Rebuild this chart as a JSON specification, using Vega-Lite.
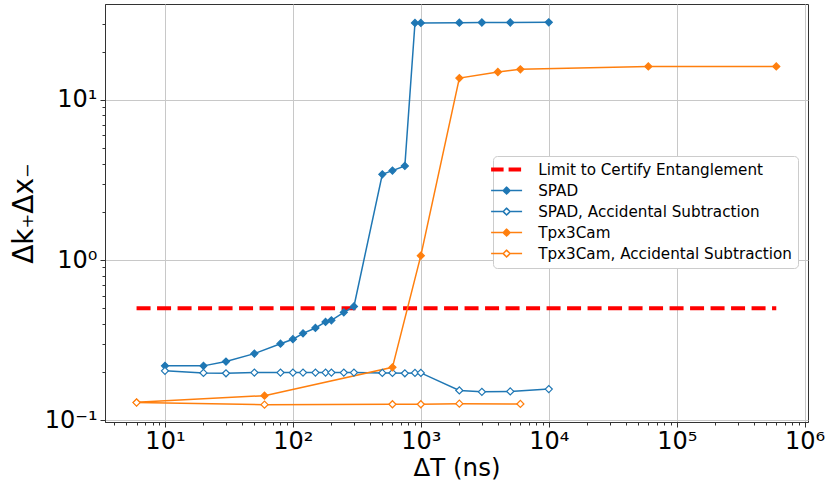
{
  "$schema": "https://vega.github.io/schema/vega-lite/v6.json",
  "width": 703,
  "height": 418,
  "autosize": "none",
  "padding": {"left": 105, "top": 4, "right": 19, "bottom": 63},
  "background": "white",
  "config": {
    "view": {"stroke": "#333333", "strokeWidth": 1},
    "font": "DejaVu Sans"
  },
  "datasets": {
    "pts": [
      {"series": "SPAD", "dt": 10, "val": 0.218},
      {"series": "SPAD", "dt": 20, "val": 0.218},
      {"series": "SPAD", "dt": 30, "val": 0.232},
      {"series": "SPAD", "dt": 50, "val": 0.26},
      {"series": "SPAD", "dt": 80, "val": 0.30},
      {"series": "SPAD", "dt": 100, "val": 0.32},
      {"series": "SPAD", "dt": 120, "val": 0.348},
      {"series": "SPAD", "dt": 150, "val": 0.376},
      {"series": "SPAD", "dt": 180, "val": 0.41},
      {"series": "SPAD", "dt": 200, "val": 0.42},
      {"series": "SPAD", "dt": 250, "val": 0.471},
      {"series": "SPAD", "dt": 300, "val": 0.513},
      {"series": "SPAD", "dt": 500, "val": 3.43},
      {"series": "SPAD", "dt": 600, "val": 3.62},
      {"series": "SPAD", "dt": 750, "val": 3.87},
      {"series": "SPAD", "dt": 900, "val": 30.3},
      {"series": "SPAD", "dt": 1000, "val": 30.3},
      {"series": "SPAD", "dt": 2000, "val": 30.4},
      {"series": "SPAD", "dt": 3000, "val": 30.5},
      {"series": "SPAD", "dt": 5000, "val": 30.5},
      {"series": "SPAD", "dt": 10000, "val": 30.6},
      {"series": "SPAD, Accidental Subtraction", "dt": 10, "val": 0.203},
      {"series": "SPAD, Accidental Subtraction", "dt": 20, "val": 0.197},
      {"series": "SPAD, Accidental Subtraction", "dt": 30, "val": 0.196},
      {"series": "SPAD, Accidental Subtraction", "dt": 50, "val": 0.198},
      {"series": "SPAD, Accidental Subtraction", "dt": 80, "val": 0.198},
      {"series": "SPAD, Accidental Subtraction", "dt": 100, "val": 0.198},
      {"series": "SPAD, Accidental Subtraction", "dt": 120, "val": 0.198},
      {"series": "SPAD, Accidental Subtraction", "dt": 150, "val": 0.198},
      {"series": "SPAD, Accidental Subtraction", "dt": 180, "val": 0.198},
      {"series": "SPAD, Accidental Subtraction", "dt": 200, "val": 0.198},
      {"series": "SPAD, Accidental Subtraction", "dt": 250, "val": 0.198},
      {"series": "SPAD, Accidental Subtraction", "dt": 300, "val": 0.198},
      {"series": "SPAD, Accidental Subtraction", "dt": 500, "val": 0.197},
      {"series": "SPAD, Accidental Subtraction", "dt": 600, "val": 0.197},
      {"series": "SPAD, Accidental Subtraction", "dt": 750, "val": 0.196},
      {"series": "SPAD, Accidental Subtraction", "dt": 900, "val": 0.197},
      {"series": "SPAD, Accidental Subtraction", "dt": 1000, "val": 0.197},
      {"series": "SPAD, Accidental Subtraction", "dt": 2000, "val": 0.153},
      {"series": "SPAD, Accidental Subtraction", "dt": 3000, "val": 0.150},
      {"series": "SPAD, Accidental Subtraction", "dt": 5000, "val": 0.151},
      {"series": "SPAD, Accidental Subtraction", "dt": 10000, "val": 0.156},
      {"series": "Tpx3Cam", "dt": 6, "val": 0.129},
      {"series": "Tpx3Cam", "dt": 60, "val": 0.142},
      {"series": "Tpx3Cam", "dt": 600, "val": 0.2135},
      {"series": "Tpx3Cam", "dt": 1000, "val": 1.064},
      {"series": "Tpx3Cam", "dt": 2000, "val": 13.7},
      {"series": "Tpx3Cam", "dt": 4000, "val": 14.96},
      {"series": "Tpx3Cam", "dt": 6000, "val": 15.56},
      {"series": "Tpx3Cam", "dt": 60000, "val": 16.2},
      {"series": "Tpx3Cam", "dt": 600000, "val": 16.2},
      {"series": "Tpx3Cam, Accidental Subtraction", "dt": 6, "val": 0.1285},
      {"series": "Tpx3Cam, Accidental Subtraction", "dt": 60, "val": 0.1247},
      {"series": "Tpx3Cam, Accidental Subtraction", "dt": 600, "val": 0.1255},
      {"series": "Tpx3Cam, Accidental Subtraction", "dt": 1000, "val": 0.1255},
      {"series": "Tpx3Cam, Accidental Subtraction", "dt": 2000, "val": 0.1265},
      {"series": "Tpx3Cam, Accidental Subtraction", "dt": 6000, "val": 0.126}
    ],
    "limit": [
      {"series": "Limit to Certify Entanglement", "dt": 6, "dt2": 600000, "val": 0.5}
    ]
  },
  "layer": [
    {
      "data": {"name": "limit"},
      "mark": {"type": "rule", "strokeWidth": 4, "strokeDash": [14, 6.5]},
      "encoding": {
        "x": {"field": "dt", "type": "quantitative"},
        "x2": {"field": "dt2"},
        "y": {"field": "val", "type": "quantitative"},
        "color": {"field": "series", "type": "nominal"}
      }
    },
    {
      "data": {"name": "pts"},
      "mark": {"type": "line", "strokeWidth": 1.5},
      "encoding": {
        "x": {"field": "dt", "type": "quantitative"},
        "y": {"field": "val", "type": "quantitative"},
        "color": {"field": "series", "type": "nominal"}
      }
    },
    {
      "data": {"name": "pts"},
      "mark": {"type": "point", "shape": "diamond", "size": 50, "strokeWidth": 1.2, "opacity": 1, "filled": false},
      "encoding": {
        "x": {"field": "dt", "type": "quantitative"},
        "y": {"field": "val", "type": "quantitative"},
        "color": {"field": "series", "type": "nominal"},
        "fill": {
          "field": "series", "type": "nominal", "legend": null,
          "scale": {
            "domain": ["Limit to Certify Entanglement", "SPAD", "SPAD, Accidental Subtraction", "Tpx3Cam", "Tpx3Cam, Accidental Subtraction"],
            "range": ["#ff0000", "#1f77b4", "#ffffff", "#ff7f0e", "#ffffff"]
          }
        }
      }
    }
  ],
  "resolve": {"scale": {"fill": "independent"}},
  "encoding": {
    "x": {
      "field": "dt", "type": "quantitative",
      "scale": {"type": "log", "domain": [3.4, 1062000], "nice": false},
      "axis": {
        "title": "ΔT (ns)",
        "titleFontSize": 24.5, "titleFont": "DejaVu Sans", "titleFontWeight": "normal", "titleColor": "#000000",
        "titleBaseline": "alphabetic", "titleY": 53,
        "values": [4,5,6,7,8,9,10,20,30,40,50,60,70,80,90,100,200,300,400,500,600,700,800,900,1000,2000,3000,4000,5000,6000,7000,8000,9000,10000,20000,30000,40000,50000,60000,70000,80000,90000,100000,200000,300000,400000,500000,600000,700000,800000,900000,1000000],
        "labelExpr": "datum.value == 10 ? '10¹' : datum.value == 100 ? '10²' : datum.value == 1000 ? '10³' : datum.value == 10000 ? '10⁴' : datum.value == 100000 ? '10⁵' : datum.value == 1000000 ? '10⁶' : ''",
        "labelFontSize": 24, "labelFont": "DejaVu Sans", "labelColor": "#000000",
        "labelOverlap": false, "labelPadding": 2, "labelFlush": false, "labelBound": false,
        "tickSize": {"condition": {"test": "indexof([10,100,1000,10000,100000,1000000], datum.value) >= 0", "value": 5}, "value": 3},
        "tickColor": "#333333", "tickWidth": 1,
        "domainColor": "#333333", "domainWidth": 1,
        "grid": true,
        "gridColor": "#c8c8c8", "gridWidth": 1,
        "gridOpacity": {"condition": {"test": "indexof([10,100,1000,10000,100000,1000000], datum.value) >= 0", "value": 1}, "value": 0}
      }
    },
    "y": {
      "field": "val", "type": "quantitative",
      "scale": {"type": "log", "domain": [0.0972, 39.8], "nice": false},
      "axis": {
        "title": "Δk₊Δx₋",
        "titleFontSize": 28, "titleFont": "DejaVu Sans", "titleFontWeight": "normal", "titleColor": "#000000",
        "titleX": -81, "titleY": 209, "titleAngle": -90, "titleAlign": "center", "titleBaseline": "middle",
        "values": [0.1,0.2,0.3,0.4,0.5,0.6,0.7,0.8,0.9,1,2,3,4,5,6,7,8,9,10,20,30],
        "labelExpr": "datum.value == 0.1 ? '10⁻¹' : datum.value == 1 ? '10⁰' : datum.value == 10 ? '10¹' : ''",
        "labelFontSize": 24, "labelFont": "DejaVu Sans", "labelColor": "#000000",
        "labelOverlap": false, "labelPadding": 3, "labelFlush": false, "labelBound": false,
        "tickSize": {"condition": {"test": "indexof([0.1,1,10], datum.value) >= 0", "value": 5}, "value": 3},
        "tickColor": "#333333", "tickWidth": 1,
        "domainColor": "#333333", "domainWidth": 1,
        "grid": true,
        "gridColor": "#c8c8c8", "gridWidth": 1,
        "gridOpacity": {"condition": {"test": "indexof([0.1,1,10], datum.value) >= 0", "value": 1}, "value": 0}
      }
    },
    "color": {
      "field": "series", "type": "nominal",
      "scale": {
        "domain": ["Limit to Certify Entanglement", "SPAD", "SPAD, Accidental Subtraction", "Tpx3Cam", "Tpx3Cam, Accidental Subtraction"],
        "range": ["#ff0000", "#1f77b4", "#1f77b4", "#ff7f0e", "#ff7f0e"]
      },
      "legend": {
        "title": null,
        "orient": "none", "legendX": 388, "legendY": 152,
        "labelFontSize": 15.2, "labelFont": "DejaVu Sans", "labelColor": "#000000", "labelLimit": 400,
        "labelOffset": 24,
        "symbolSize": 961,
        "rowPadding": 5,
        "padding": 6,
        "fillColor": "#ffffff", "strokeColor": "#cccccc", "cornerRadius": 4,
        "encode": {
          "symbols": {
            "update": {
              "shape": {"signal": "datum.value === 'Limit to Certify Entanglement' ? 'M-1,0H1' : 'M-1,0H-0.22M0.22,0H1M0,-0.22L0.22,0L0,0.22L-0.22,0Z'"},
              "size": {"value": 961},
              "fill": {"signal": "datum.value === 'SPAD' ? '#1f77b4' : datum.value === 'Tpx3Cam' ? '#ff7f0e' : '#ffffff'"},
              "stroke": {"signal": "datum.value === 'Limit to Certify Entanglement' ? '#ff0000' : indexof(datum.value, 'SPAD') === 0 ? '#1f77b4' : '#ff7f0e'"},
              "strokeWidth": {"signal": "datum.value === 'Limit to Certify Entanglement' ? 4 : 1.5"},
              "strokeDash": {"signal": "datum.value === 'Limit to Certify Entanglement' ? [12.5, 5] : [1, 0]"},
              "opacity": {"value": 1},
              "fillOpacity": {"value": 1},
              "strokeOpacity": {"value": 1}
            }
          }
        }
      }
    }
  }
}
